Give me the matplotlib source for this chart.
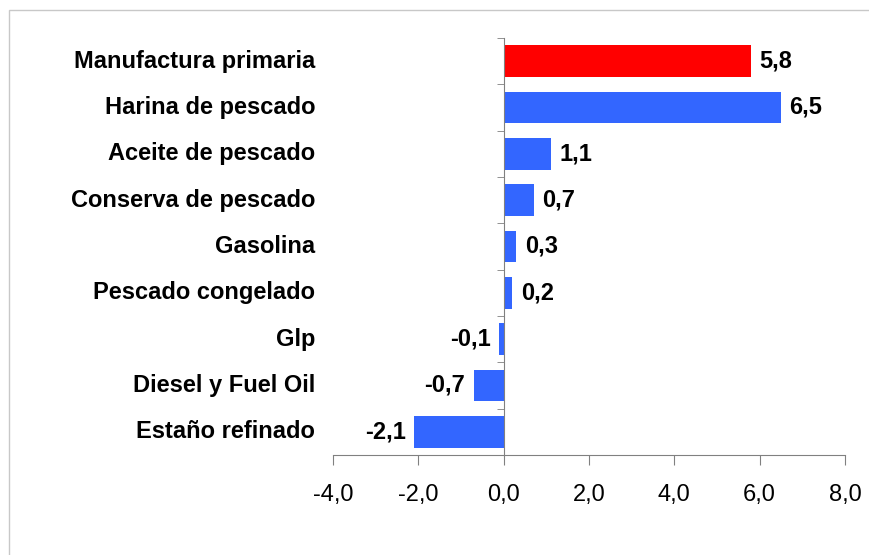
import matplotlib.pyplot as plt
import numpy as np
from matplotlib.patches import Rectangle
from matplotlib.ticker import FixedLocator

categorias = ['Manufactura primaria', 'Harina de pescado', 'Aceite de pescado',
              'Conserva de pescado', 'Gasolina', 'Pescado congelado', 'Glp',
              'Diesel y Fuel Oil', 'Estaño refinado']
valores = [5.8, 6.5, 1.1, 0.7, 0.3, 0.2, -0.1, -0.7, -2.1]
colores = ['#FF0000'] + ['#3366FF'] * 8
xticks = [-4, -2, 0, 2, 4, 6, 8]

plt.rcParams['font.family'] = ['Liberation Sans', 'DejaVu Sans']

fig = plt.figure(figsize=(8.69, 5.55), dpi=100)
ax = fig.add_axes([333 / 869, 1 - 455 / 555, 512 / 869, 417 / 555])

# marco gris del grafico
fig.patches.append(Rectangle((9 / 869, -0.1), 1.1, 1 - 10 / 555 + 0.1,
                             transform=fig.transFigure, fill=False,
                             edgecolor='#C8C8C8', linewidth=1))

y = np.arange(len(categorias))
ax.barh(y, valores, height=0.69, color=colores)
ax.set_ylim(len(categorias) - 0.5, -0.5)
ax.set_xlim(-4, 8)

for spine in ['top', 'right']:
    ax.spines[spine].set_visible(False)
ax.spines['left'].set_position(('data', 0))
ax.spines['left'].set_color('#808080')
ax.spines['bottom'].set_color('#808080')

ax.set_yticks([])
ax.yaxis.set_minor_locator(FixedLocator(np.arange(len(categorias) + 1) - 0.5))
ax.tick_params(axis='y', which='minor', length=5, color='#808080', direction='out')

ax.set_xticks(xticks)
ax.set_xticklabels([f'{v:.1f}'.replace('.', ',') for v in xticks])
ax.tick_params(axis='x', length=7, color='#808080', pad=14, labelsize=17)

for i, (cat, v) in enumerate(zip(categorias, valores)):
    ax.text(-0.035, i, cat, transform=ax.get_yaxis_transform(),
            ha='right', va='center', fontsize=17, fontweight='bold')
    txt = f'{v:.1f}'.replace('.', ',')
    if v >= 0:
        ax.text(v + 0.2, i, txt, ha='left', va='center', fontsize=17, fontweight='bold')
    else:
        ax.text(v - 0.2, i, txt, ha='right', va='center', fontsize=17, fontweight='bold')

fig.savefig('out.png', dpi=100)
